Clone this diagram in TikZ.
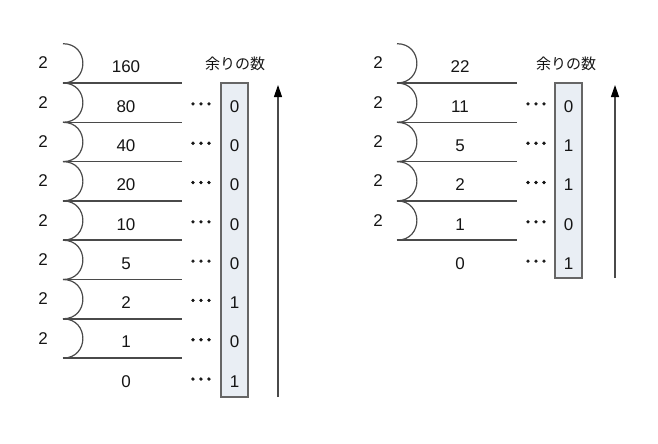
\documentclass[tikz,border=0pt]{standalone}
\usepackage{fontspec}
\setmainfont{Liberation Sans}
\newfontfamily\jpfont{Noto Sans CJK JP}
\newfontfamily\dotfont[AutoFakeBold=4]{Noto Sans CJK JP}
\usetikzlibrary{arrows.meta}
\definecolor{linegray}{HTML}{4A4A4A}
\definecolor{boxfill}{HTML}{E9EEF4}
\definecolor{boxline}{HTML}{666666}
\definecolor{txt}{HTML}{151515}
\begin{document}
\begin{tikzpicture}[x=1pt,y=-1pt,
  font=\fontsize{17}{20}\selectfont,
  lbl/.style={text=txt, inner sep=0pt, anchor=center},
  head/.style={lbl, font=\jpfont\fontsize{15}{18}\selectfont},
  dotlbl/.style={lbl, font=\dotfont\bfseries\fontsize{16}{18}\selectfont},
  rule/.style={draw=linegray, line width=1.6pt},
  hook/.style={draw=linegray, line width=1.2pt},
  remainbox/.style={draw=boxline, fill=boxfill, line width=1.3pt},
  uparrow/.style={draw=linegray, line width=1.2pt, -{Triangle[width=8pt,length=12pt,color=black]}}]
\useasboundingbox (0,0) rectangle (658,444);
% ---------- left diagram (160) ----------
\foreach \k in {0,...,7} {
  \node[lbl] (Ltwo\k) at (43, 63+39.3*\k) {2};
  \pgfmathsetmacro\ytop{83+39.3*(\k-1)}
  \pgfmathsetmacro\ybot{83+39.3*\k}
  \draw[hook] (63,\ytop) .. controls (89.5,\ytop) and (89.5,\ybot) .. (63,\ybot);
  \draw[rule] (63,\ybot) -- (182,\ybot);
}
\foreach \v [count=\i from 0] in {160,80,40,20,10,5,2,1,0}
  \node[lbl] (Lnum\i) at (126, 67+39.3*\i) {\v};
\draw[remainbox] (221,83) rectangle (248,397);
\foreach \r [count=\i from 1] in {0,0,0,0,0,1,0,1} {
  \node[dotlbl] (Ldots\i) at (201, 67+39.3*\i) {･･･};
  \node[lbl] (Lrem\i) at (234.5, 67+39.3*\i) {\r};
}
\node[head] (Lhead) at (235, 64) {余りの数};
\coordinate (Larrs) at (278,397);
\coordinate (Larre) at (278,85);
\draw[uparrow] (Larrs) -- (Larre);
% ---------- right diagram (22) ----------
\foreach \k in {0,...,4} {
  \node[lbl] (Rtwo\k) at (378, 63+39.3*\k) {2};
  \pgfmathsetmacro\ytop{83+39.3*(\k-1)}
  \pgfmathsetmacro\ybot{83+39.3*\k}
  \draw[hook] (397,\ytop) .. controls (423.5,\ytop) and (423.5,\ybot) .. (397,\ybot);
  \draw[rule] (397,\ybot) -- (517,\ybot);
}
\foreach \v [count=\i from 0] in {22,11,5,2,1,0}
  \node[lbl] (Rnum\i) at (460, 67+39.3*\i) {\v};
\draw[remainbox] (555,83) rectangle (582,278);
\foreach \r [count=\i from 1] in {0,1,1,0,1} {
  \node[dotlbl] (Rdots\i) at (536, 67+39.3*\i) {･･･};
  \node[lbl] (Rrem\i) at (568.5, 67+39.3*\i) {\r};
}
\node[head] (Rhead) at (566, 64) {余りの数};
\coordinate (Rarrs) at (615,278);
\coordinate (Rarre) at (615,85);
\draw[uparrow] (Rarrs) -- (Rarre);
\end{tikzpicture}
\end{document}
